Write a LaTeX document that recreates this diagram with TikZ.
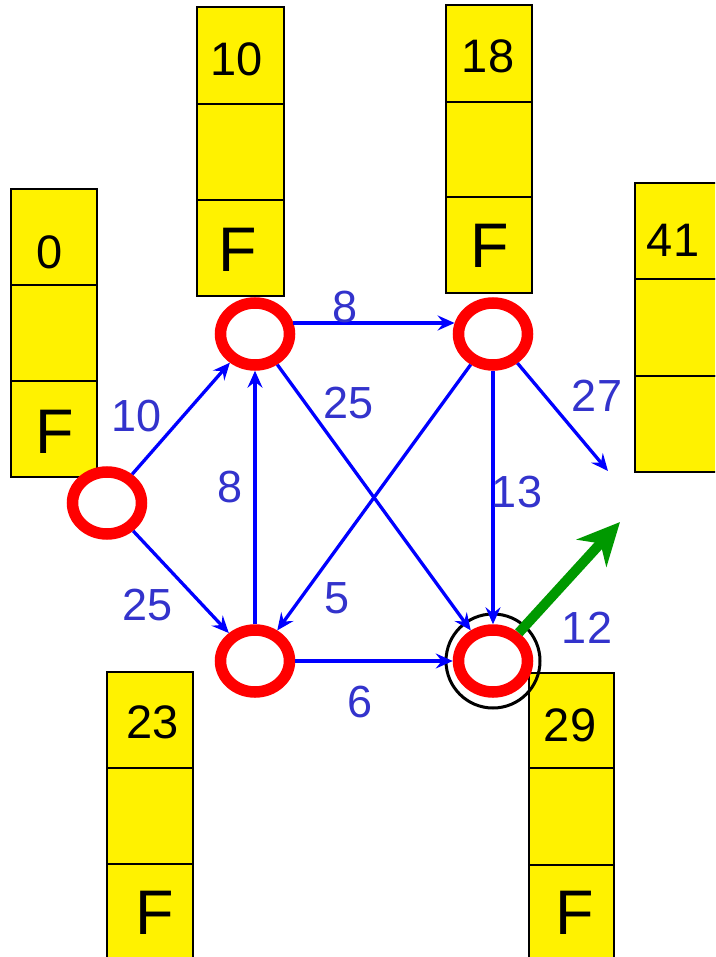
\documentclass[tikz,border=0pt]{standalone}
\usepackage{fontspec}
\setmainfont{Liberation Sans}
\usetikzlibrary{arrows.meta,shapes.geometric}
\definecolor{lbl}{RGB}{51,51,204}
\definecolor{grn}{RGB}{0,153,0}
\begin{document}
\begin{tikzpicture}[x=1pt,y=-1pt,
 ev/.style={ellipse,draw=red,line width=11.5pt,fill=white,minimum width=69pt,minimum height=62pt,inner sep=0pt},
 cell/.style={draw=black,line width=2.5pt,fill=yellow},
 num/.style={font=\fontsize{47}{47}\selectfont,inner sep=0pt,text=black},
 ff/.style={font=\fontsize{63}{63}\selectfont,inner sep=0pt,text=black},
 lab/.style={font=\fontsize{45}{45}\selectfont,text=lbl,inner sep=0pt},
 arc/.style={draw=blue,line width=3.3pt,-{Stealth[length=17pt,width=15pt,inset=6pt]}},
 big/.style={draw=grn,line width=10pt,-{Stealth[length=42pt,width=40pt,inset=13pt]}}]
\useasboundingbox (0,0) rectangle (715,957);
\clip (0,0) rectangle (715,957);
% boxes
\foreach \xa/\xb/\ya/\yb/\yc/\yd in {11/97/189/285/381/477, 197/284/7/104/200/296, 446/532/5/102/197/293, 635/725/183/279/376/472, 107/193/672/768/864/965, 529/614/673/768/865/965}{
  \draw[cell] (\xa,\ya) rectangle (\xb,\yb);
  \draw[cell] (\xa,\yb) rectangle (\xb,\yc);
  \draw[cell] (\xa,\yc) rectangle (\xb,\yd);
}
\node[num] (n0) at (50,252) {0};
\node[ff] (f0) at (55,432) {F};
\node[num] (n10) at (237,59) {10};
\node[ff] (f10) at (238,250) {F};
\node[num] (n18) at (488,56) {18};
\node[ff] (f18) at (490,246) {F};
\node[num] (n41) at (673,240) {41};
\node[num] (n23) at (153,722) {23};
\node[ff] (f23) at (155,913) {F};
\node[num] (n29) at (570,725) {29};
\node[ff] (f29) at (575,913) {F};
% target circle
\node[circle,draw=black,line width=3pt,minimum size=94pt,inner sep=0pt] (ring) at (493,661) {};
% events
\node[ev] (A) at (107,503) {};
\node[ev] (B) at (255,334) {};
\node[ev] (C) at (493,334) {};
\node[ev] (D) at (255,661) {};
\node[ev] (E) at (493,661) {};
\coordinate (t27) at (608,471);
\coordinate (tg) at (620,522);
% activities
\draw[arc] (A) -- (B);
\draw[arc] (A) -- (D);
\draw[arc] (D) -- (B);
\draw[arc] (B.16) -- (C.164);
\draw[arc] (B) -- (E);
\draw[arc] (C) -- (D);
\draw[arc] (C) -- (E);
\draw[arc] (C) -- (t27);
\draw[arc] (D) -- (E);
\draw[big] (E) -- (tg);
% labels
\node[lab] (l10) at (137,416) {10};
\node[lab] (l25a) at (148,605) {25};
\node[lab] (l8a) at (230,487) {8};
\node[lab] (l8b) at (345,307) {8};
\node[lab] (l25b) at (349,403) {25};
\node[lab] (l27) at (597,396) {27};
\node[lab] (l13) at (517,492) {13};
\node[lab] (l5) at (337,598) {5};
\node[lab] (l6) at (360,702) {6};
\node[lab] (l12) at (587,628) {12};
\end{tikzpicture}
\end{document}
